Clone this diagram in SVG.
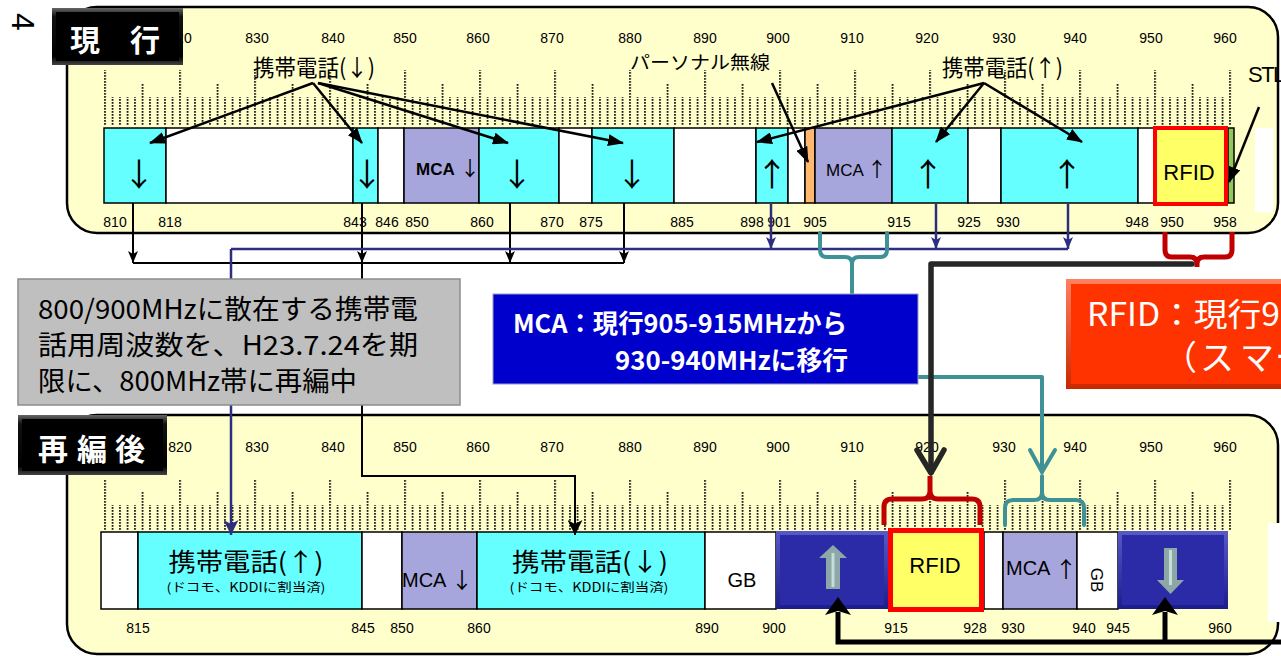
<svg xmlns="http://www.w3.org/2000/svg" width="1281" height="656" viewBox="0 0 1281 656">
<defs>
<style>
.panel{fill:#FFFFCC;stroke:#000;stroke-width:2.5}
.num{font-family:"Liberation Sans",Arial,sans-serif;font-size:14px;fill:#000;text-anchor:middle}
.seg{stroke:#000;stroke-width:1.5}
.cy{fill:#66FFFF}
.wh{fill:#FFFFFF}
.lv{fill:#A6A6DD}
.jp{font-family:"Noto Sans CJK JP",sans-serif;fill:#000}
.arw{font-family:"Noto Sans CJK JP",sans-serif;font-size:32px;text-anchor:middle;fill:#000}
.lat{font-family:"Liberation Sans",Arial,sans-serif;fill:#000}
.k{stroke:#000;stroke-width:2;fill:none}
.nv{stroke:#2E2E80;stroke-width:2.5;fill:none}
.tl{stroke:#3E9197;stroke-width:4;fill:none;stroke-linejoin:round;stroke-linecap:round}
.rd{stroke:#C00000;stroke-width:5;fill:none;stroke-linejoin:round}
.dk{stroke:#262626;stroke-width:5.5;fill:none;stroke-linecap:round;stroke-linejoin:round}
.call{stroke:#000;stroke-width:2.5;fill:none}
.thick{stroke:#000;stroke-width:5;fill:none}
.white{fill:#FFFFFF}
.blk{font-family:"Noto Sans CJK JP",sans-serif;font-size:30px;font-weight:bold;fill:#FFFFFF}
.blockarrow{fill:#8DA6A6}
.stripe{stroke:#C8DCDC;stroke-width:3}
</style>
<pattern id="p1" x="104.2" y="0" width="7.5" height="3" patternUnits="userSpaceOnUse"><rect width="1.6" height="1.8" fill="#000"/></pattern>
<pattern id="p5" x="104.2" y="0" width="37.5" height="3" patternUnits="userSpaceOnUse"><rect width="1.6" height="1.8" fill="#000"/></pattern>
<pattern id="p10" x="104.2" y="0" width="75" height="3" patternUnits="userSpaceOnUse"><rect width="1.6" height="1.8" fill="#000"/></pattern>
<linearGradient id="gblk" x1="0" y1="0" x2="0" y2="1"><stop offset="0" stop-color="#666"/><stop offset="0.15" stop-color="#111"/><stop offset="0.85" stop-color="#000"/><stop offset="1" stop-color="#444"/></linearGradient>
<linearGradient id="gnv" x1="0" y1="0" x2="0" y2="1"><stop offset="0" stop-color="#5858C6"/><stop offset="1" stop-color="#1C1C8C"/></linearGradient>
<linearGradient id="gor" x1="0" y1="0" x2="0" y2="1"><stop offset="0" stop-color="#FF8060"/><stop offset="1" stop-color="#C82800"/></linearGradient>
<marker id="ah" viewBox="0 0 16 12" markerWidth="16" markerHeight="12" refX="15" refY="6" orient="auto" markerUnits="userSpaceOnUse"><path d="M0,0 L16,6 L0,12 z" fill="#000"/></marker>
<marker id="ak" viewBox="0 0 12 10" markerWidth="12" markerHeight="10" refX="12" refY="5" orient="auto" markerUnits="userSpaceOnUse"><path d="M0,0 L12,5 L0,10 L3,5 z" fill="#000"/></marker>
<marker id="akb" viewBox="0 0 15 15" markerWidth="15" markerHeight="15" refX="15" refY="7.5" orient="auto" markerUnits="userSpaceOnUse"><path d="M0,0 L15,7.5 L0,15 L4,7.5 z" fill="#000"/></marker>
<marker id="an" viewBox="0 0 12 10" markerWidth="12" markerHeight="10" refX="12" refY="5" orient="auto" markerUnits="userSpaceOnUse"><path d="M0,0 L12,5 L0,10 L3,5 z" fill="#2E2E80"/></marker>
<marker id="anb" viewBox="0 0 15 15" markerWidth="15" markerHeight="15" refX="15" refY="7.5" orient="auto" markerUnits="userSpaceOnUse"><path d="M0,0 L15,7.5 L0,15 L4,7.5 z" fill="#2E2E80"/></marker>
</defs>

<text x="23" y="22" transform="rotate(90 23 22)" text-anchor="middle" dy="11.5" class="lat" font-size="32">4</text>

<g id="panel-current">
<rect class="panel" x="67" y="7" width="1211" height="226" rx="30"/>
<rect x="100" y="70" width="1135" height="13" fill="url(#p10)"/>
<rect x="100" y="83" width="1135" height="14" fill="url(#p5)"/>
<rect x="100" y="97" width="1135" height="28" fill="url(#p1)"/>
<g class="num">
<text x="180" y="43">820</text><text x="257" y="43">830</text><text x="333" y="43">840</text><text x="405" y="43">850</text><text x="478" y="43">860</text><text x="552" y="43">870</text><text x="630" y="43">880</text><text x="705" y="43">890</text><text x="778" y="43">900</text><text x="852" y="43">910</text><text x="927" y="43">920</text><text x="1004" y="43">930</text><text x="1075" y="43">940</text><text x="1151" y="43">950</text><text x="1225" y="43">960</text>
</g>
<g class="seg">
<rect class="cy" x="104" y="128" width="62" height="75"/>
<rect class="wh" x="166" y="128" width="187" height="75"/>
<rect class="cy" x="353" y="128" width="25" height="75"/>
<rect class="wh" x="378" y="128" width="26" height="75"/>
<rect class="lv" x="404" y="128" width="75" height="75"/>
<rect class="cy" x="479" y="128" width="80" height="75"/>
<rect class="wh" x="559" y="128" width="33" height="75"/>
<rect class="cy" x="592" y="128" width="82" height="75"/>
<rect class="wh" x="674" y="128" width="82" height="75"/>
<rect class="cy" x="756" y="128" width="32" height="75"/>
<rect class="wh" x="788" y="128" width="17" height="75"/>
<rect fill="#FFB870" x="805" y="128" width="10" height="75"/>
<rect class="lv" x="815" y="128" width="77" height="75"/>
<rect class="cy" x="892" y="128" width="76" height="75"/>
<rect class="wh" x="968" y="128" width="33" height="75"/>
<rect class="cy" x="1001" y="128" width="137" height="75"/>
<rect class="wh" x="1138" y="128" width="17" height="75"/>
<rect fill="#8DC858" x="1228" y="128" width="6" height="75"/>
</g>
<rect x="1155" y="128" width="71" height="76" fill="#FFFF66" stroke="#FF0000" stroke-width="4"/>
<rect class="white" x="1255" y="128" width="18" height="84"/>
<text class="arw" x="139" y="186">↓</text>
<text class="arw" x="367" y="186">↓</text>
<text class="arw" x="517" y="186">↓</text>
<text class="arw" x="632" y="186">↓</text>
<text class="arw" x="772" y="186">↑</text>
<text class="arw" x="928" y="186">↑</text>
<text class="arw" x="1067" y="186">↑</text>
<text class="lat" x="416" y="175" font-size="17" font-weight="bold">MCA</text>
<text class="jp" x="470" y="176" font-size="20" text-anchor="middle">↓</text>
<text class="lat" x="826" y="176" font-size="17">MCA</text>
<text class="jp" x="877" y="177" font-size="20" text-anchor="middle">↑</text>
<text class="lat" x="1189" y="180" font-size="22" text-anchor="middle">RFID</text>
<g class="num">
<text x="115" y="227">810</text><text x="170" y="227">818</text><text x="355" y="227">843</text><text x="387" y="227">846</text><text x="417" y="227">850</text><text x="482" y="227">860</text><text x="552" y="227">870</text><text x="591" y="227">875</text><text x="682" y="227">885</text><text x="752" y="227">898</text><text x="779" y="227">901</text><text x="815" y="227">905</text><text x="899" y="227">915</text><text x="969" y="227">925</text><text x="1008" y="227">930</text><text x="1137" y="227">948</text><text x="1172" y="227">950</text><text x="1225" y="227">958</text>
</g>
<text class="jp" x="253" y="76" font-size="23" textLength="122" lengthAdjust="spacingAndGlyphs">携帯電話(↓)</text>
<text class="jp" x="630" y="69" font-size="18.5" textLength="140" lengthAdjust="spacingAndGlyphs">パーソナル無線</text>
<text class="jp" x="942" y="76" font-size="23" textLength="121" lengthAdjust="spacingAndGlyphs">携帯電話(↑)</text>
<text class="lat" x="1248" y="82" font-size="22" letter-spacing="-1.5">STL</text>
</g>

<g id="label-current">
<rect x="52" y="8" width="131" height="57" fill="url(#gblk)"/>
<rect x="56" y="12" width="123" height="49" fill="#000"/>
<text class="blk" x="70" y="51">現　行</text>
</g>

<g id="panel-after">
<rect class="panel" x="67" y="415" width="1211" height="239" rx="30"/>
<rect x="100" y="480" width="1135" height="12" fill="url(#p10)"/>
<rect x="100" y="492" width="1135" height="13" fill="url(#p5)"/>
<rect x="100" y="505" width="1135" height="25" fill="url(#p1)"/>
<g class="num">
<text x="180" y="452">820</text><text x="257" y="452">830</text><text x="333" y="452">840</text><text x="405" y="452">850</text><text x="478" y="452">860</text><text x="552" y="452">870</text><text x="630" y="452">880</text><text x="705" y="452">890</text><text x="778" y="452">900</text><text x="852" y="452">910</text><text x="927" y="452">920</text><text x="1004" y="452">930</text><text x="1075" y="452">940</text><text x="1151" y="452">950</text><text x="1225" y="452">960</text>
</g>
<g class="seg">
<rect class="wh" x="101" y="532" width="37" height="77"/>
<rect class="cy" x="138" y="532" width="224" height="77"/>
<rect class="wh" x="362" y="532" width="40" height="77"/>
<rect class="lv" x="402" y="532" width="75" height="77"/>
<rect class="cy" x="477" y="532" width="228" height="77"/>
<rect class="wh" x="705" y="532" width="71" height="77"/>
<rect class="wh" x="984" y="532" width="19" height="77"/>
<rect class="lv" x="1003" y="532" width="74" height="77"/>
<rect class="wh" x="1077" y="532" width="41" height="77"/>
</g>
<rect x="776" y="531" width="112" height="78" fill="url(#gnv)"/>
<rect x="780" y="535" width="104" height="70" fill="#2B2BA7"/>
<rect x="1118" y="531" width="110" height="78" fill="url(#gnv)"/>
<rect x="1122" y="535" width="102" height="70" fill="#2B2BA7"/>
<rect x="890.5" y="530.5" width="91" height="79" fill="#FFFF66" stroke="#FF0000" stroke-width="5"/>
<rect class="white" x="1268" y="523" width="13" height="99"/>
<text class="jp" x="246" y="571" font-size="25" text-anchor="middle" textLength="155" lengthAdjust="spacingAndGlyphs">携帯電話(↑)</text>
<text class="jp" x="246" y="592" font-size="12.5" text-anchor="middle" textLength="159" lengthAdjust="spacingAndGlyphs">(ドコモ、KDDIに割当済)</text>
<text class="lat" x="402" y="587" font-size="20">MCA</text>
<text class="jp" x="462" y="588" font-size="22" text-anchor="middle">↓</text>
<text class="jp" x="590" y="571" font-size="25" text-anchor="middle" textLength="156" lengthAdjust="spacingAndGlyphs">携帯電話(↓)</text>
<text class="jp" x="589" y="592" font-size="12.5" text-anchor="middle" textLength="159" lengthAdjust="spacingAndGlyphs">(ドコモ、KDDIに割当済)</text>
<text class="lat" x="742" y="587" font-size="20" text-anchor="middle">GB</text>
<polygon class="blockarrow" points="833,545 847,558 840,558 840,589 826,589 826,558 819,558"/>
<line class="stripe" x1="833" y1="553" x2="833" y2="587"/>
<text class="lat" x="935" y="573" font-size="22" text-anchor="middle">RFID</text>
<text class="lat" x="1006" y="575" font-size="20">MCA</text>
<text class="jp" x="1066" y="577" font-size="22" text-anchor="middle">↑</text>
<text class="lat" font-size="17" text-anchor="middle" transform="translate(1097,580) rotate(90)" y="6">GB</text>
<polygon class="blockarrow" points="1164,548 1177,548 1177,580 1184,580 1170.5,594 1157,580 1164,580"/>
<line class="stripe" x1="1170.5" y1="550" x2="1170.5" y2="585"/>
<g class="num">
<text x="138" y="633">815</text><text x="363" y="633">845</text><text x="402" y="633">850</text><text x="479" y="633">860</text><text x="707" y="633">890</text><text x="774" y="633">900</text><text x="896" y="633">915</text><text x="975" y="633">928</text><text x="1013" y="633">930</text><text x="1084" y="633">940</text><text x="1118" y="633">945</text><text x="1220" y="633">960</text>
</g>
</g>

<g id="label-after">
<rect x="18" y="415" width="149" height="60" fill="url(#gblk)"/>
<rect x="22" y="419" width="141" height="52" fill="#000"/>
<text class="blk" x="38 77 115" y="460">再編後</text>
</g>

<g id="connectors">
<path class="call" d="M313,83 L150,143" marker-end="url(#ah)"/>
<path class="call" d="M313,83 L362,143" marker-end="url(#ah)"/>
<path class="call" d="M318,83 L508,143" marker-end="url(#ah)"/>
<path class="call" d="M318,83 L623,143" marker-end="url(#ah)"/>
<path class="call" d="M772,83 L808,162" marker-end="url(#ah)"/>
<path class="call" d="M984,83 L757,142" marker-end="url(#ah)"/>
<path class="call" d="M984,83 L936,142" marker-end="url(#ah)"/>
<path class="call" d="M984,83 L1082,142" marker-end="url(#ah)"/>
<path class="call" d="M1259,107 L1229,182" marker-end="url(#ah)"/>

<path class="k" d="M133,203 V263" marker-end="url(#ak)"/>
<path class="k" d="M362,203 V263" marker-end="url(#ak)"/>
<path class="k" d="M510,203 V263" marker-end="url(#ak)"/>
<path class="k" d="M624,203 V263" marker-end="url(#ak)"/>
<path class="k" d="M133,263 H624"/>
<path class="k" d="M362,263 V476 H575 V535" marker-end="url(#akb)"/>

<path class="nv" d="M771,204 V249" marker-end="url(#an)"/>
<path class="nv" d="M936,204 V249" marker-end="url(#an)"/>
<path class="nv" d="M1068,204 V249" marker-end="url(#an)"/>
<path class="nv" d="M231,249 H1068"/>
<path class="nv" d="M231,249 V535" marker-end="url(#anb)"/>

<path class="tl" d="M820,233 V250 Q820,257 827,257 H845 Q852,257 852,264 V293 M887,233 V250 Q887,257 880,257 H859 Q852,257 852,264"/>
<path class="tl" d="M918,377 H1042 V472"/>
<path class="tl" d="M1030,450 L1042,472 L1055,450"/>
<path class="tl" d="M1005,525 V508 Q1005,500 1013,500 H1034 Q1042,500 1042,492 V476 M1084,525 V508 Q1084,500 1076,500 H1050 Q1042,500 1042,492"/>

<path class="rd" d="M1165,232 V250 Q1165,257 1172,257 H1190 Q1197,257 1197,264 V267 M1232,232 V250 Q1232,257 1225,257 H1204 Q1197,257 1197,264"/>
<path class="rd" d="M884,525 V507 Q884,499 892,499 H922 Q930,499 930,491 V476 M980,525 V507 Q980,499 972,499 H938 Q930,499 930,491"/>

<path class="dk" d="M1192,264 H931 V472"/>
<path class="dk" d="M917,450 L931,473 L944,450"/>

<path class="thick" d="M838,612 V642 H1281"/>
<path class="thick" d="M1165,642 V612"/>
<polygon points="838,597 851,615 838,611 825,615" fill="#000"/>
<polygon points="1165,597 1178,615 1165,611 1152,615" fill="#000"/>
</g>

<g id="note-gray">
<rect x="18" y="279" width="442" height="126" fill="#BFBFBF" stroke="#8C8C8C" stroke-width="1.5"/>
<text class="jp" x="38" y="319" font-size="27" fill="#111" textLength="380" lengthAdjust="spacingAndGlyphs">800/900MHzに散在する携帯電</text>
<text class="jp" x="38" y="355" font-size="27" fill="#111" textLength="380" lengthAdjust="spacingAndGlyphs">話用周波数を、H23.7.24を期</text>
<text class="jp" x="38" y="391" font-size="27" fill="#111" textLength="319" lengthAdjust="spacingAndGlyphs">限に、800MHz帯に再編中</text>
</g>

<g id="note-mca">
<rect x="493" y="294" width="425" height="90" fill="#0000CC" stroke="#9A9AC0" stroke-width="1"/>
<text x="513" y="333" font-family="Noto Sans CJK JP,sans-serif" font-size="26" font-weight="bold" fill="#FFFFFF" textLength="334" lengthAdjust="spacingAndGlyphs">MCA：現行905-915MHzから</text>
<text x="615" y="370" font-family="Noto Sans CJK JP,sans-serif" font-size="26" font-weight="bold" fill="#FFFFFF" textLength="233" lengthAdjust="spacingAndGlyphs">930-940MHzに移行</text>
</g>

<g id="note-rfid">
<rect x="1066" y="279" width="220" height="110" fill="url(#gor)"/>
<rect x="1071" y="284" width="215" height="100" fill="#FF3300"/>
<text x="1087" y="326" font-family="Noto Sans CJK JP,sans-serif" font-size="32" fill="#FFFFFF" textLength="193" lengthAdjust="spacingAndGlyphs">RFID：現行9</text>
<text x="1163 1200 1240 1275" y="370" font-family="Noto Sans CJK JP,sans-serif" font-size="34" fill="#FFFFFF">（スマー</text>
</g>
</svg>
